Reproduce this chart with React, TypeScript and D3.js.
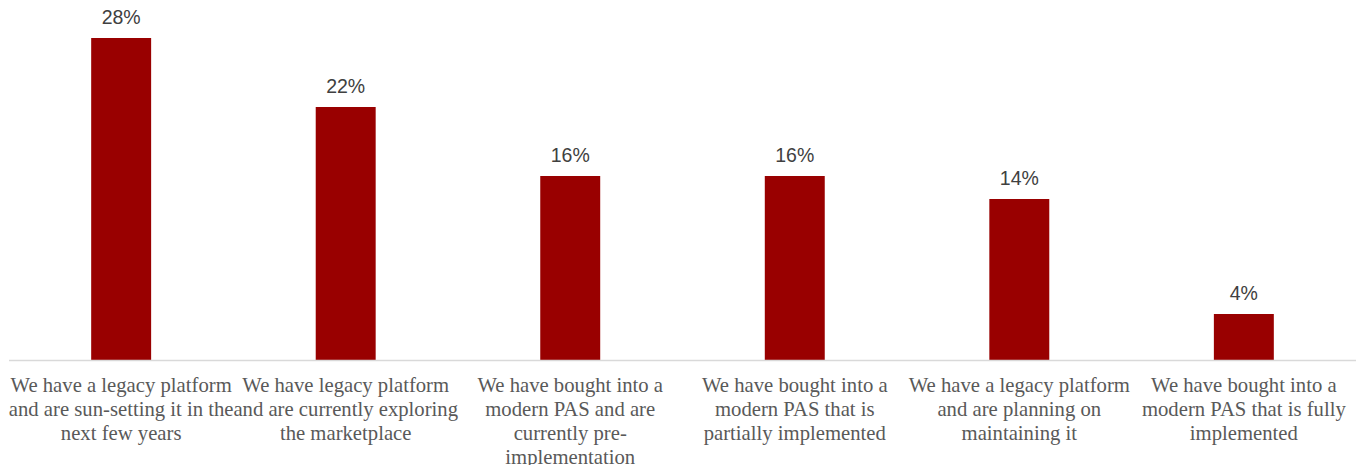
import React from "react";
import * as d3 from "d3";

const categories: string[][] = [
  ["We have a legacy platform", "and are sun-setting it in the", "next few years"],
  ["We have legacy platform", "and are currently exploring", "the marketplace"],
  ["We have bought into a", "modern PAS and are", "currently pre-", "implementation"],
  ["We have bought into a", "modern PAS that is", "partially implemented"],
  ["We have a legacy platform", "and are planning on", "maintaining it"],
  ["We have bought into a", "modern PAS that is fully", "implemented"],
];
const values: number[] = [28, 22, 16, 16, 14, 4];
const valueLabels: string[] = ["28%", "22%", "16%", "16%", "14%", "4%"];

const W = 1358;
const H = 465;

export default function App() {
  const x = d3
    .scaleBand<number>()
    .domain(values.map((_, i) => i))
    .range([9, 1356])
    .paddingInner(0.733)
    .paddingOuter(0.366);
  const y = d3.scaleLinear().domain([0, 28]).range([360, 38]);
  const bw = x.bandwidth();

  return (
    <svg
      width={W}
      height={H}
      style={{ position: "absolute", left: 0, top: 0, background: "#fff" }}
    >
      {values.map((v, i) => (
        <rect
          key={"b" + i}
          x={x(i)!}
          y={y(v)}
          width={bw}
          height={y(0) - y(v)}
          fill="#990000"
        />
      ))}
      <line x1={9} x2={1356} y1={360.5} y2={360.5} stroke="#d9d9d9" strokeWidth={1.3} />
      {values.map((v, i) => (
        <text
          key={"v" + i}
          x={x(i)! + bw / 2}
          y={y(v) - 14}
          textAnchor="middle"
          fontFamily="Liberation Sans, Arial, sans-serif"
          fontSize={19.5}
          fill="#404040"
        >
          {valueLabels[i]}
        </text>
      ))}
      {categories.map((lines, i) => (
        <text
          key={"c" + i}
          textAnchor="middle"
          fontFamily="Liberation Serif, DejaVu Serif, serif"
          fontSize={20.7}
          fill="#595959"
        >
          {lines.map((ln, j) => (
            <tspan key={j} x={x(i)! + bw / 2} y={392 + j * 24}>
              {ln}
            </tspan>
          ))}
        </text>
      ))}
    </svg>
  );
}
